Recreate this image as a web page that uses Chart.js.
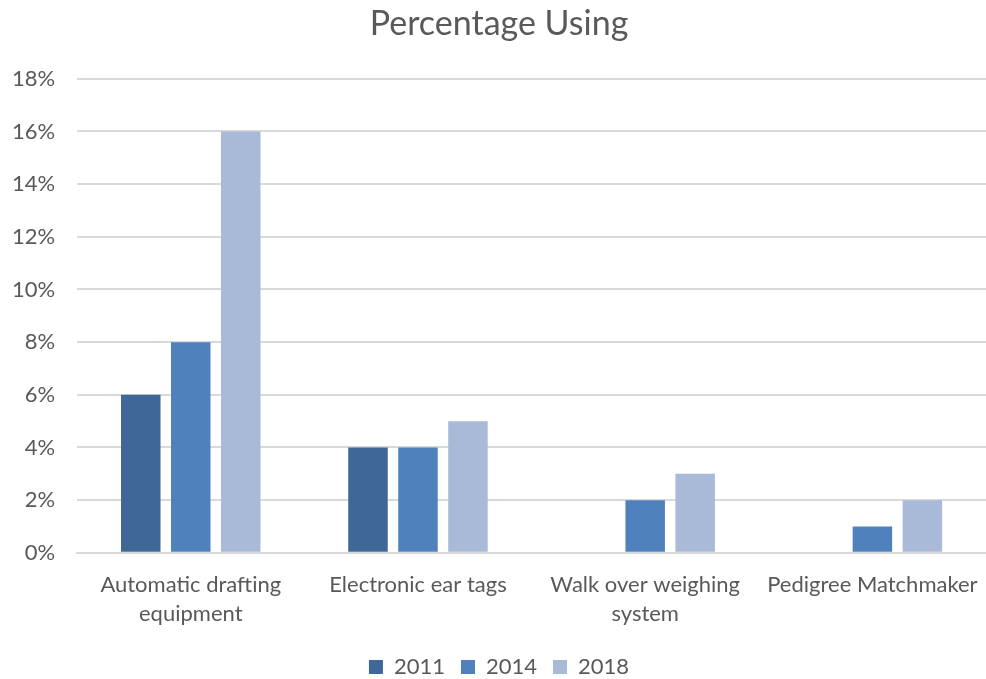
<!DOCTYPE html>
<html>
<head>
<meta charset="utf-8">
<script src="https://cdn.jsdelivr.net/npm/chart.js@4/dist/chart.umd.min.js"></script>
<style>
  html, body { margin: 0; padding: 0; background: #fff; }
  #wrap { width: 986px; height: 679px; }
</style>
</head>
<body>
<div id="wrap"><canvas id="grafica"></canvas></div>
<script>
var categorias = [
  ["Automatic drafting", "equipment"],
  "Electronic ear tags",
  ["Walk over weighing", "system"],
  "Pedigree Matchmaker"
];
var anios = ["2011", "2014", "2018"];
var datos2011 = [0.06, 0.04, null, null];
var datos2014 = [0.08, 0.04, 0.02, 0.01];
var datos2018 = [0.16, 0.05, 0.03, 0.02];
var colores = ["#3F6797", "#4F81BD", "#A9B9D8"];

Chart.defaults.font.family = "Lato, 'Open Sans', sans-serif";
Chart.defaults.color = "#595959";

var series = [datos2011, datos2014, datos2018];
var datasets = [];
for (var i = 0; i < anios.length; i++) {
  datasets.push({
    label: anios[i],
    data: series[i],
    backgroundColor: colores[i],
    borderWidth: 0,
    categoryPercentage: 0.66,
    barPercentage: 0.79
  });
}

var ctx = document.getElementById("grafica").getContext("2d");
var myChart = new Chart(ctx, {
  type: "bar",
  data: { labels: categorias, datasets: datasets },
  options: {
    responsive: true,
    maintainAspectRatio: false,
    animation: false,
    layout: { padding: { left: 12, right: 0, top: 0, bottom: -9 } },
    plugins: {
      title: {
        display: true,
        text: "Percentage Using",
        font: { size: 34, weight: "normal" },
        color: "#595959",
        padding: { top: 4, bottom: 34 }
      },
      legend: {
        position: "bottom",
        title: { display: true, text: "", font: { size: 10 }, padding: 0 },
        labels: {
          boxWidth: 14,
          boxHeight: 14,
          font: { size: 22 },
          padding: 16
        }
      },
      tooltip: { enabled: false }
    },
    scales: {
      x: {
        grid: {
          display: true,
          drawOnChartArea: false,
          drawTicks: true,
          tickLength: 18,
          tickColor: "rgba(0,0,0,0)"
        },
        border: { display: true, color: "#D9D9D9", width: 2 },
        ticks: { font: { size: 22, lineHeight: 1.3 }, padding: 0, maxRotation: 0 },
        afterFit: function (scale) {
          scale.paddingLeft = 0;
          scale.paddingRight = 0;
        }
      },
      y: {
        min: 0,
        max: 0.18,
        grid: { color: "#D9D9D9", lineWidth: 2, drawTicks: false },
        border: { display: false },
        ticks: {
          stepSize: 0.02,
          font: { size: 22 },
          padding: 22,
          callback: function (v) { return Math.round(v * 100) + "%"; }
        },
        afterFit: function (scale) {
          // chart.js suma el padding dos veces al ancho del eje
          scale.width = scale.width - 22;
        }
      }
    }
  }
});
</script>
</body>
</html>
